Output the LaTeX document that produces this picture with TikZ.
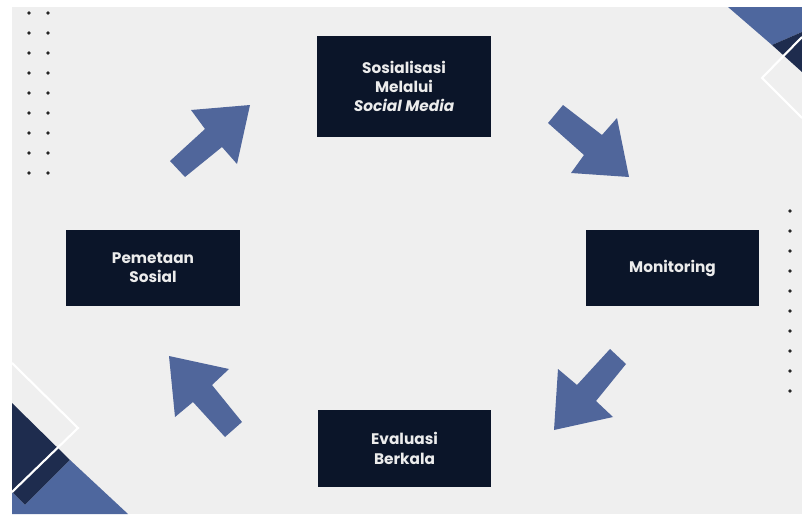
\documentclass[tikz,border=0pt]{standalone}
\usepackage{fontspec}
\setmainfont{Poppins}
\definecolor{bggray}{RGB}{239,239,239}
\definecolor{boxnavy}{RGB}{11,21,41}
\definecolor{arrowblue}{RGB}{80,102,155}
\definecolor{cornerblue}{RGB}{78,103,158}
\definecolor{cornernavy}{RGB}{30,44,78}
\definecolor{txtlight}{RGB}{236,236,236}
\tikzset{
  stagebox/.style={fill=boxnavy, draw=none, text=txtlight, align=center,
    font=\bfseries\fontsize{11.5}{14.5}\selectfont, inner sep=0pt,
    minimum width=130pt},
  blockarrow/.style={fill=arrowblue, draw=none},
  dotmark/.style={fill=black!85, draw=none},
  whiteline/.style={draw=white, line width=1.6pt},
}
\begin{document}
\begin{tikzpicture}[x=0.75pt,y=-0.75pt]
\useasboundingbox (0,0) rectangle (802,514);
\fill[white] (0,0) rectangle (802,514);
\fill[bggray] (12,7) rectangle (802,514);
% corner decorations
\fill[cornerblue] (728,7) -- (802,7) -- (802,32) -- (772,45) -- cycle;
\fill[cornernavy] (772,45) -- (802,32) -- (802,72) -- cycle;
\draw[whiteline] (802,37) -- (762,78) -- (802,118);
\fill[cornernavy] (12,403) -- (70,460) -- (25,505) -- (12,492) -- cycle;
\fill[cornerblue] (70,460) -- (128,514) -- (12,514) -- (12,492) -- (25,505) -- cycle;
\draw[whiteline] (12,363) -- (78,428) -- (12,492);
% dots
\foreach \r in {0,...,8}{
  \fill[dotmark] (29,13+20*\r) circle (1.9);
  \fill[dotmark] (48,13+20*\r) circle (1.9);
}
\foreach \r in {0,...,9}{
  \fill[dotmark] (790,211+20*\r) circle (1.9);
}
% boxes
\node[stagebox, minimum height=75.75pt] (sos) at (404,86.5) {Sosialisasi\\Melalui\\\textit{Social Media}};
\node[stagebox, minimum height=57pt] (peta) at (153,268) {Pemetaan\\Sosial};
\node[stagebox, minimum height=57pt] (mon) at (672.5,268) {Monitoring};
\node[stagebox, minimum height=57.75pt] (eval) at (404.5,448.5) {Evaluasi\\Berkala};
% block arrows
\fill[blockarrow] (250,105) -- (191,110) -- (205,129) -- (170,161) -- (185,177) -- (222,147) -- (237,164) -- cycle;
\fill[blockarrow] (629,177) -- (617,118) -- (602,135) -- (563,105) -- (548,123) -- (584,155) -- (571,173) -- cycle;
\fill[blockarrow] (554,430) -- (613,417) -- (596,401) -- (626,364) -- (610,349) -- (577,385) -- (558,369) -- cycle;
\fill[blockarrow] (169,356) -- (229,369) -- (212,385) -- (242,422) -- (225,437) -- (193,402) -- (175,417) -- cycle;
\end{tikzpicture}
\end{document}
